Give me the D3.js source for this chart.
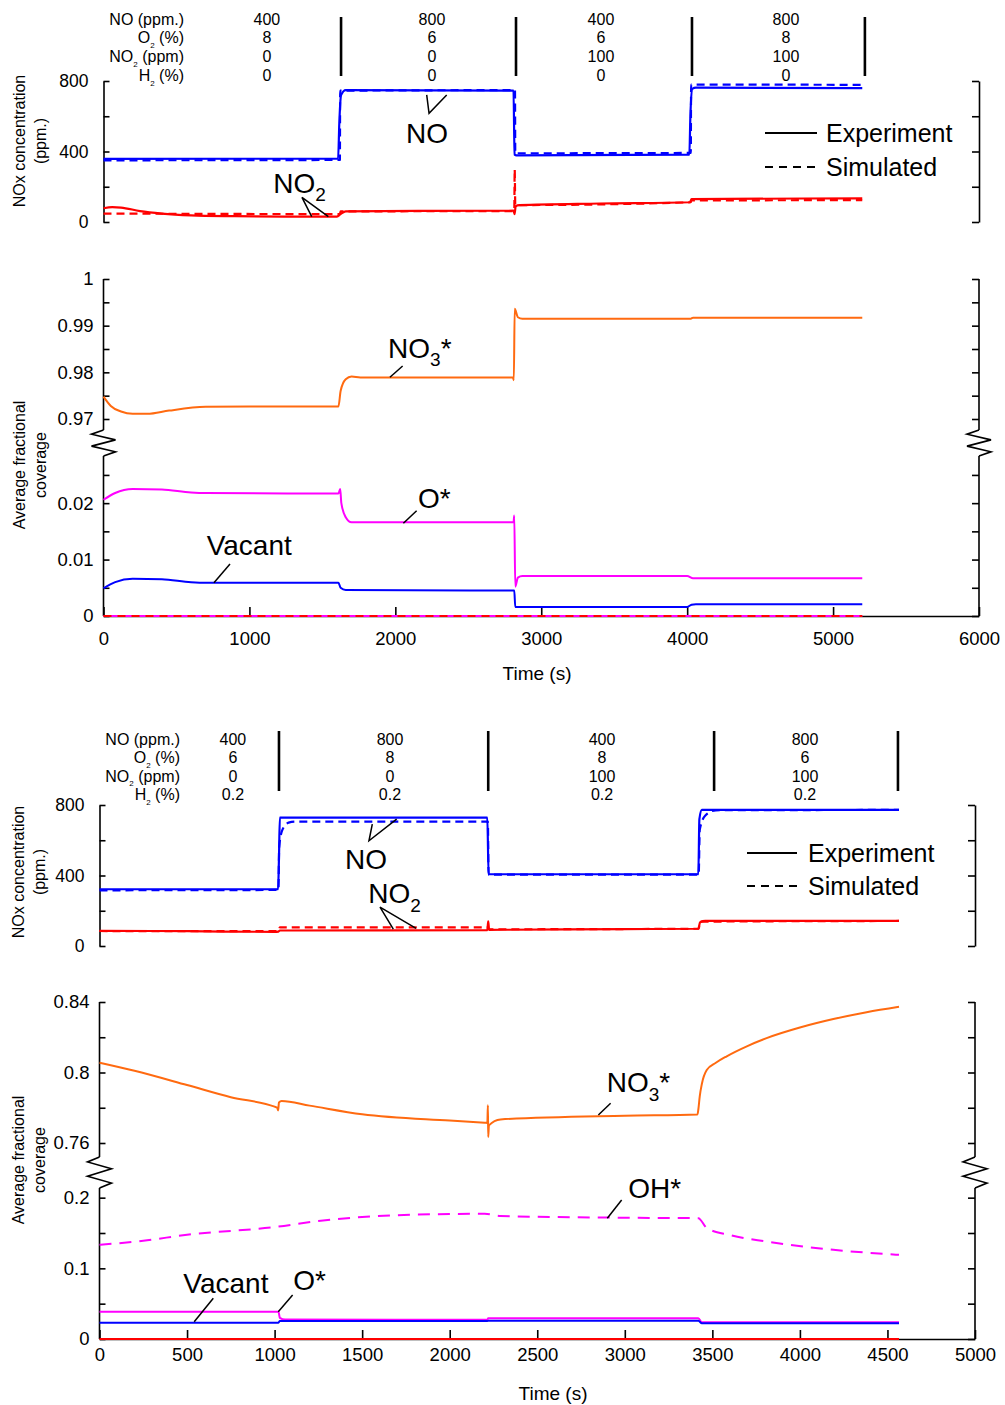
<!DOCTYPE html>
<html>
<head>
<meta charset="utf-8">
<script src="https://cdn.jsdelivr.net/npm/d3@7"></script>
<style>
  body { margin: 0; background: #fff; }
  svg { display: block; }
  text { font-family: "Liberation Sans", Arial, Helvetica, sans-serif; fill: #000; }
</style>
</head>
<body>
<svg id="fig" width="1005" height="1405"></svg>
<script>
// ---------------- Data: run 1 (no H2) ----------------
// [time (s), value]
const run1_NO_exp  = [[0,358],[1608,360],[1616,560],[1628,720],[1660,748],[2810,745],[2817,382],[2830,378],[4015,382],[4022,600],[4035,755],[4060,762],[5200,760]];
const run1_NO_sim  = [[0,350],[1620,352],[1622,745],[2820,748],[2822,390],[4025,392],[4027,780],[5200,778]];
const run1_NO2_exp = [[0,78],[60,84],[120,82],[250,62],[400,48],[600,38],[900,33],[1300,30],[1600,31],[1625,45],[1660,60],[2200,63],[2810,64],[2817,45],[2825,90],[2850,96],[3400,105],[4020,112],[4030,130],[5200,134]];
const run1_NO2_sim = [[0,48],[1620,45],[1625,60],[2815,62],[2818,298],[2822,96],[4025,112],[4028,122],[5200,124]];

const run1_NO3  = [[0,0.9748],[50,0.9728],[120,0.9716],[200,0.9711],[300,0.9711],[450,0.9718],[700,0.9726],[1000,0.9727],[1610,0.9727],[1625,0.9760],[1660,0.9785],[1700,0.9791],[1760,0.9789],[2805,0.9789],[2812,0.9783],[2818,0.9936],[2840,0.9918],[2870,0.9915],[4025,0.9915],[4040,0.9917],[5200,0.9917]];
const run1_O    = [[0,0.0206],[80,0.0218],[200,0.0225],[400,0.0224],[600,0.0219],[700,0.0218],[1610,0.0217],[1622,0.0225],[1630,0.0200],[1660,0.0175],[1700,0.0166],[2810,0.0166],[2815,0.0178],[2822,0.0052],[2840,0.0068],[2870,0.0071],[4000,0.0071],[4040,0.0067],[5200,0.0067]];
const run1_Vac  = [[0,0.0049],[80,0.0060],[200,0.0066],[400,0.0065],[600,0.0060],[700,0.0059],[1610,0.0059],[1625,0.0050],[1660,0.0046],[2815,0.0045],[2822,0.0016],[4000,0.0016],[4030,0.0020],[4060,0.0021],[5200,0.0021]];
const run1_OH   = [[0,0],[5200,0]];
const run1_N    = [[0,0],[5200,0]];

// ---------------- Data: run 2 (0.2 % H2) ----------------
const run2_NO_exp  = [[0,322],[1020,322],[1025,500],[1030,728],[2215,728],[2222,407],[3420,407],[3426,720],[3440,772],[4566,772]];
const run2_NO_sim  = [[0,316],[1022,318],[1026,560],[1045,660],[1080,700],[1120,706],[2218,706],[2222,405],[3422,405],[3428,660],[3460,740],[3520,770],[4566,772]];
const run2_NO2_exp = [[0,86],[500,84],[1000,80],[1022,82],[1030,88],[2215,90],[2220,140],[2225,92],[3000,96],[3420,98],[3430,135],[3460,142],[4566,142]];
const run2_NO2_sim = [[0,85],[1022,84],[1030,106],[2218,106],[2222,95],[3422,98],[3430,138],[4566,142]];

const run2_NO3  = [[0,0.8056],[200,0.8010],[500,0.7929],[750,0.7860],[1000,0.7806],[1015,0.7800],[1020,0.7785],[1025,0.7830],[1040,0.7838],[1200,0.7812],[1500,0.7763],[2000,0.7727],[2200,0.7715],[2215,0.7714],[2218,0.7814],[2220,0.7634],[2224,0.7700],[2290,0.7734],[3000,0.7755],[3415,0.7762],[3420,0.7790],[3428,0.7865],[3440,0.7935],[3468,0.8014],[3520,0.8055],[3582,0.8092],[3700,0.8150],[3810,0.8195],[4000,0.8255],[4191,0.8303],[4381,0.8342],[4566,0.8373]];
const run2_OH   = [[0,0.1333],[250,0.1390],[500,0.1475],[1000,0.1584],[1250,0.1670],[1500,0.1726],[2000,0.1769],[2200,0.1772],[2290,0.1740],[3000,0.1716],[3420,0.1710],[3468,0.1570],[3600,0.1470],[3810,0.1380],[4191,0.1262],[4566,0.1191]];
const run2_O    = [[0,0.0387],[1022,0.0387],[1030,0.0300],[1060,0.0275],[2215,0.0272],[2220,0.0295],[3420,0.0293],[3440,0.0236],[4566,0.0236]];
const run2_Vac  = [[0,0.0231],[1022,0.0231],[1030,0.0255],[2215,0.0255],[2222,0.0258],[3420,0.0258],[3440,0.0222],[4566,0.0222]];
const run2_N    = [[0,0],[4566,0]];

// ---------------- Feed conditions ----------------
const condRows = [[["NO"],[" (ppm.)"]], [["O"],["2","sub"],[" (%)"]], [["NO"],["2","sub"],[" (ppm)"]], [["H"],["2","sub"],[" (%)"]]];
const run1_cond = [["400","800","400","800"],["8","6","6","8"],["0","0","100","100"],["0","0","0","0"]];
const run2_cond = [["400","800","400","800"],["6","8","8","6"],["0","0","100","100"],["0.2","0.2","0.2","0.2"]];
const run1_switch = [1628, 2827, 4033, 5218];
const run2_switch = [1025, 2220, 3510, 4560];
const run1_condT  = [1120, 2251, 3409, 4677];
const run2_condT  = [762, 1659, 2870, 4029];

// ---------------- Ticks ----------------
const noxTicks = [0,200,400,600,800], noxLabels = [0,400,800];
const run1_upTicks = [0.97,0.975,0.98,0.985,0.99,0.995,1], run1_upLabels = [0.97,0.98,0.99,1];
const run1_lowTicks = [0,0.005,0.01,0.015,0.02,0.025], run1_lowLabels = [0,0.01,0.02];
const run1_timeTicks = [0,1000,2000,3000,4000,5000,6000];
const run2_upTicks = [0.76,0.78,0.8,0.82,0.84], run2_upLabels = [0.76,0.8,0.84];
const run2_lowTicks = [0,0.05,0.1,0.15,0.2], run2_lowLabels = [0,0.1,0.2];
const run2_timeTicks = [0,500,1000,1500,2000,2500,3000,3500,4000,4500,5000];

// ---------------- Styling ----------------
const BLUE = "#0000ff", RED = "#ff0000", ORANGE = "#ff6a10", MAGENTA = "#ff00ff";
const FONT = "\"Liberation Sans\", Arial, sans-serif";

const svg = d3.select("#fig");

// text made of plain and subscript pieces
function rich(sel, parts, size, subScale) {
  let shift = 0;
  parts.forEach(([s, kind]) => {
    const ts = sel.append("tspan").text(s);
    if (kind === "sub") {
      shift = size * 0.3;
      ts.attr("dy", shift).style("font-size", (size * subScale) + "px");
    } else if (shift) {
      ts.attr("dy", -shift);
      shift = 0;
    }
  });
  return sel;
}

function zigzag(g, x, y0, y1) {
  const h = y1 - y0;
  const pts = [[0,0],[-12,0.16],[12,0.38],[-12,0.62],[12,0.84],[0,1]].map(([dx, f]) => [x + dx, y0 + f * h]);
  g.append("path").attr("d", d3.line()(pts)).attr("fill", "none").attr("stroke", "#000").attr("stroke-width", 1.6);
}

function styleAxis(ax, size) {
  ax.attr("font-family", null).attr("font-size", null);
  ax.selectAll("text").style("font-size", size + "px").style("font-family", FONT);
  ax.selectAll("line,path").attr("stroke", "#000").attr("stroke-width", 1.6);
}

const fmt = d => String(+d.toFixed(4));

function drawRun(cfg) {
  const g = svg.append("g");
  const x  = d3.scaleLinear().domain(cfg.xDomain).range(cfg.xRange);
  const yN = d3.scaleLinear().domain([0, 800]).range(cfg.noxRange);
  const yU = d3.scaleLinear().domain(cfg.upDomain).range(cfg.upRange);
  const yL = d3.scaleLinear().domain(cfg.lowDomain).range(cfg.lowRange);
  const scales = { nox: yN, up: yU, low: yL };
  const xl = cfg.xRange[0], xr = cfg.xRange[1];

  // ---- feed condition table ----
  condRows.forEach((parts, i) => {
    const yb = cfg.headY0 + i * cfg.headDy;
    rich(g.append("text").attr("x", cfg.rowLabelX).attr("y", yb).attr("text-anchor", "end").style("font-size", "16px"), parts, 16, 0.5);
    cfg.cond[i].forEach((v, j) => {
      g.append("text").attr("x", x(cfg.condT[j])).attr("y", yb).attr("text-anchor", "middle").style("font-size", "16px").text(v);
    });
  });
  cfg.switches.forEach(t => {
    g.append("line").attr("x1", x(t)).attr("x2", x(t)).attr("y1", cfg.divY[0]).attr("y2", cfg.divY[1])
      .attr("stroke", "#000").attr("stroke-width", 2.6);
  });

  // ---- NOx panel axes ----
  const axL = g.append("g").attr("transform", `translate(${xl},0)`)
    .call(d3.axisLeft(yN).tickValues(noxTicks).tickSize(-6).tickSizeOuter(0).tickPadding(15)
      .tickFormat(d => noxLabels.includes(d) ? d : ""));
  styleAxis(axL, 17.5);
  const axR = g.append("g").attr("transform", `translate(${xr},0)`)
    .call(d3.axisRight(yN).tickValues(noxTicks).tickSize(-7).tickSizeOuter(0).tickFormat(""));
  styleAxis(axR, 17);

  // ---- coverage panel axes ----
  [[xl, d3.axisLeft, -6, true], [xr, d3.axisRight, -7, false]].forEach(([ax0, gen, ts, lab]) => {
    const a1 = g.append("g").attr("transform", `translate(${ax0},0)`)
      .call(gen(yU).tickValues(cfg.upTicks).tickSize(ts).tickPadding(10)
        .tickFormat(d => lab && cfg.upLabels.includes(d) ? fmt(d) : ""));
    a1.select(".domain").remove();
    styleAxis(a1, 18.5);
    const a2 = g.append("g").attr("transform", `translate(${ax0},0)`)
      .call(gen(yL).tickValues(cfg.lowTicks).tickSize(ts).tickPadding(10)
        .tickFormat(d => lab && cfg.lowLabels.includes(d) ? fmt(d) : ""));
    a2.select(".domain").remove();
    styleAxis(a2, 18.5);
    g.append("line").attr("x1", ax0).attr("x2", ax0).attr("y1", yU(cfg.upDomain[1])).attr("y2", cfg.breakY[0])
      .attr("stroke", "#000").attr("stroke-width", 1.6);
    zigzag(g, ax0, cfg.breakY[0], cfg.breakY[1]);
    g.append("line").attr("x1", ax0).attr("x2", ax0).attr("y1", cfg.breakY[1]).attr("y2", yL(0))
      .attr("stroke", "#000").attr("stroke-width", 1.6);
  });

  const axB = g.append("g").attr("transform", `translate(0,${yL(0)})`)
    .call(d3.axisBottom(x).tickValues(cfg.timeTicks).tickSize(-9).tickSizeOuter(0).tickPadding(cfg.xTickPad).tickFormat(d => d));
  styleAxis(axB, 18.5);

  g.append("text").attr("x", cfg.timeLabel[0]).attr("y", cfg.timeLabel[1]).attr("dy", "0.35em")
    .attr("text-anchor", "middle").style("font-size", "19px").text("Time (s)");

  // ---- axis titles ----
  [[cfg.noxTitleY, ["NOx concentration", "(ppm.)"]], [cfg.covTitleY, ["Average fractional", "coverage"]]].forEach(([yc, lines]) => {
    lines.forEach((s, k) => {
      g.append("text").attr("transform", `translate(${cfg.titleX[k]},${yc}) rotate(-90)`)
        .attr("text-anchor", "middle").attr("dy", "0.35em").style("font-size", "16px").text(s);
    });
  });

  // ---- series ----
  cfg.series.forEach(s => {
    const ys = scales[s.panel];
    g.append("path").datum(s.data)
      .attr("d", d3.line().curve(d3.curveMonotoneX).x(d => x(d[0])).y(d => ys(d[1])))
      .attr("fill", "none").attr("stroke", s.color).attr("stroke-width", s.width || 2)
      .attr("stroke-dasharray", s.dash || null).attr("stroke-linejoin", "round");
  });

  // ---- callouts ----
  cfg.leaders.forEach(l => {
    const ys = scales[l.panel];
    g.append("path").attr("d", d3.line().x(d => x(d[0])).y(d => ys(d[1]))(l.pts))
      .attr("fill", "none").attr("stroke", "#000").attr("stroke-width", 1.5);
  });
  cfg.labels.forEach(l => {
    const ys = scales[l.panel];
    rich(g.append("text").attr("x", x(l.at[0])).attr("y", ys(l.at[1])).style("font-size", "28px"), l.parts, 28, 0.68);
  });

  // ---- legend ----
  const L = cfg.legend;
  [["Experiment", null], ["Simulated", "8,6"]].forEach(([name, dash], k) => {
    const yy = L.y + k * L.dy;
    g.append("line").attr("x1", L.x1).attr("x2", L.x2).attr("y1", yy).attr("y2", yy)
      .attr("stroke", "#000").attr("stroke-width", 2).attr("stroke-dasharray", dash);
    g.append("text").attr("x", L.tx).attr("y", yy).attr("dy", "0.35em").style("font-size", "25px").text(name);
  });
}

// ---------------- Run 1 ----------------
drawRun({
  xDomain: [0, 6000], xRange: [103.5, 979],
  noxRange: [222, 81],
  upDomain: [0.97, 1], upRange: [419, 279],
  lowDomain: [0, 0.028], lowRange: [616, 458],
  breakY: [430, 456],
  upTicks: run1_upTicks, upLabels: run1_upLabels,
  lowTicks: run1_lowTicks, lowLabels: run1_lowLabels,
  timeTicks: run1_timeTicks, xTickPad: 16,
  headY0: 24.5, headDy: 18.9, divY: [17, 76], rowLabelX: 184,
  cond: run1_cond, condT: run1_condT, switches: run1_switch,
  timeLabel: [537, 673],
  titleX: [19, 40], noxTitleY: 141, covTitleY: 465,
  legend: { x1: 765, x2: 817, y: 133, dy: 34, tx: 826 },
  series: [
    { panel: "nox", data: run1_NO_sim, color: BLUE, dash: "8,5", width: 2.2 },
    { panel: "nox", data: run1_NO_exp, color: BLUE, width: 2.2 },
    { panel: "nox", data: run1_NO2_sim, color: RED, dash: "8,5", width: 2.2 },
    { panel: "nox", data: run1_NO2_exp, color: RED, width: 2.2 },
    { panel: "up",  data: run1_NO3, color: ORANGE },
    { panel: "low", data: run1_O, color: MAGENTA },
    { panel: "low", data: run1_Vac, color: BLUE },
    { panel: "low", data: run1_OH, color: MAGENTA },
    { panel: "low", data: run1_N, color: RED, dash: "8,6" }
  ],
  leaders: [
    { panel: "nox", pts: [[2215,721],[2231,617],[2352,721]] },
    { panel: "nox", pts: [[1427,31],[1360,140],[1541,31]] },
    { panel: "up",  pts: [[2050,0.98136],[1963,0.97894]] },
    { panel: "low", pts: [[2146,0.01866],[2055,0.01643]] },
    { panel: "low", pts: [[867,0.00922],[757,0.00590]] }
  ],
  labels: [
    { panel: "nox", at: [2073,450], parts: [["NO"]] },
    { panel: "nox", at: [1164,166], parts: [["NO"],["2","sub"]] },
    { panel: "up",  at: [1950,0.98314], parts: [["NO"],["3","sub"],["*"]] },
    { panel: "low", at: [2155,0.01909], parts: [["O*"]] },
    { panel: "low", at: [707,0.01081], parts: [["Vacant"]] }
  ]
});

// ---------------- Run 2 ----------------
drawRun({
  xDomain: [0, 5000], xRange: [99.5, 975],
  noxRange: [946, 805],
  upDomain: [0.76, 0.84], upRange: [1143, 1002],
  lowDomain: [0, 0.225], lowRange: [1339, 1180],
  breakY: [1157, 1188],
  upTicks: run2_upTicks, upLabels: run2_upLabels,
  lowTicks: run2_lowTicks, lowLabels: run2_lowLabels,
  timeTicks: run2_timeTicks, xTickPad: 9,
  headY0: 745, headDy: 18.3, divY: [731, 791], rowLabelX: 180,
  cond: run2_cond, condT: run2_condT, switches: run2_switch,
  timeLabel: [553, 1393],
  titleX: [18, 39], noxTitleY: 872, covTitleY: 1160,
  legend: { x1: 747, x2: 797, y: 853, dy: 33, tx: 808 },
  series: [
    { panel: "nox", data: run2_NO_sim, color: BLUE, dash: "8,5", width: 2.2 },
    { panel: "nox", data: run2_NO_exp, color: BLUE, width: 2.2 },
    { panel: "nox", data: run2_NO2_sim, color: RED, dash: "8,5", width: 2.2 },
    { panel: "nox", data: run2_NO2_exp, color: RED, width: 2.2 },
    { panel: "up",  data: run2_NO3, color: ORANGE },
    { panel: "low", data: run2_OH, color: MAGENTA, dash: "12,8" },
    { panel: "low", data: run2_O, color: MAGENTA },
    { panel: "low", data: run2_Vac, color: BLUE },
    { panel: "low", data: run2_N, color: RED }
  ],
  leaders: [
    { panel: "nox", pts: [[1558,692],[1539,597],[1697,720]] },
    { panel: "nox", pts: [[1678,96],[1602,220],[1808,100]] },
    { panel: "up",  pts: [[2919,0.78253],[2849,0.77589]] },
    { panel: "low", pts: [[2982,0.1967],[2900,0.1708]] },
    { panel: "low", pts: [[650,0.0576],[541,0.0245]] },
    { panel: "low", pts: [[1103,0.0623],[1021,0.0386]] }
  ],
  labels: [
    { panel: "nox", at: [1402,435], parts: [["NO"]] },
    { panel: "nox", at: [1535,242], parts: [["NO"],["2","sub"]] },
    { panel: "up",  at: [2897,0.78876], parts: [["NO"],["3","sub"],["*"]] },
    { panel: "low", at: [3020,0.1991], parts: [["OH*"]] },
    { panel: "low", at: [479,0.0647], parts: [["Vacant"]] },
    { panel: "low", at: [1107,0.0693], parts: [["O*"]] }
  ]
});
</script>
</body>
</html>
